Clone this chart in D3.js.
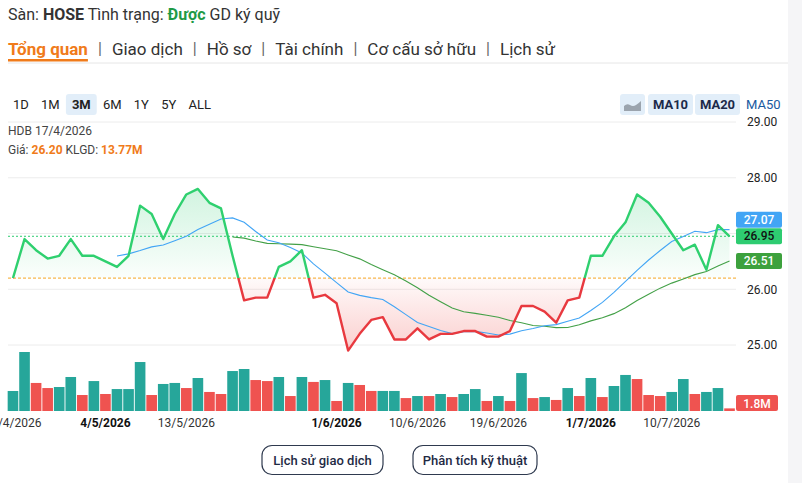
<!DOCTYPE html>
<html>
<head>
<meta charset="utf-8">
<script src="https://cdn.jsdelivr.net/npm/d3@7"></script>
<style>
  body { margin: 0; background: #fff; }
  svg { display: block; font-family: Roboto, "Noto Sans", Arial, sans-serif; }
</style>
</head>
<body>
<div id="chart"></div>
<script>
// trading days, 3M window
var dates = ['17/4/2026', '20/4/2026', '21/4/2026', '22/4/2026', '23/4/2026', '24/4/2026', '28/4/2026', '29/4/2026',
    '4/5/2026', '5/5/2026', '6/5/2026', '7/5/2026', '8/5/2026', '11/5/2026', '12/5/2026', '13/5/2026', '14/5/2026', '15/5/2026',
    '18/5/2026', '19/5/2026', '20/5/2026', '21/5/2026', '22/5/2026', '25/5/2026', '26/5/2026', '27/5/2026', '28/5/2026', '29/5/2026',
    '1/6/2026', '2/6/2026', '3/6/2026', '4/6/2026', '5/6/2026', '8/6/2026', '9/6/2026', '10/6/2026', '11/6/2026', '12/6/2026',
    '15/6/2026', '16/6/2026', '17/6/2026', '18/6/2026', '19/6/2026', '22/6/2026', '23/6/2026', '24/6/2026', '25/6/2026', '26/6/2026',
    '29/6/2026', '30/6/2026', '1/7/2026', '2/7/2026', '3/7/2026', '6/7/2026', '7/7/2026', '8/7/2026', '9/7/2026', '10/7/2026',
    '13/7/2026', '14/7/2026', '15/7/2026', '16/7/2026', '17/7/2026'];

var prices = [26.20, 26.90, 26.70, 26.55, 26.60, 26.90, 26.60, 26.60, 26.50, 26.40,
    26.60, 27.50, 27.35, 26.90, 27.35, 27.70, 27.80, 27.55, 27.45, 26.60,
    25.80, 25.85, 25.85, 26.40, 26.50, 26.70, 25.85, 25.90, 25.75, 24.90,
    25.20, 25.45, 25.50, 25.10, 25.10, 25.30, 25.10, 25.20, 25.20, 25.25,
    25.25, 25.15, 25.15, 25.25, 25.70, 25.70, 25.60, 25.40, 25.80, 25.85,
    26.60, 26.60, 26.95, 27.20, 27.70, 27.55, 27.30, 27.00, 26.70, 26.80,
    26.35, 27.15, 26.95];

// volume, millions
var volumes = [13.77, 40.6, 19.3, 15.8, 16.5, 23.4, 11.0, 20.6, 11.7, 15.1,
    15.1, 33.7, 11.0, 18.6, 19.3, 15.8, 22.7, 13.1, 11.7, 27.5,
    28.9, 21.3, 20.6, 23.4, 10.3, 23.4, 20.0, 21.3, 6.9, 19.3,
    17.9, 13.8, 13.8, 13.8, 8.9, 10.3, 10.3, 11.7, 9.6, 11.7,
    15.1, 6.9, 10.3, 6.9, 26.1, 8.9, 9.6, 7.6, 15.8, 10.3,
    22.7, 9.6, 17.2, 24.8, 22.0, 11.0, 10.3, 13.1, 22.0, 11.7,
    13.1, 15.8, 1.8];

var volDir = ('u u d d u u d u d u u u d u u d u d d u u d d u d u d u d u d d u u ' +
    'd u d u d u u d u d u d u d u d u d u u d d d u u d u u d').split(' ');

var tickDates = ['17/4/2026', '4/5/2026', '13/5/2026', '1/6/2026', '10/6/2026', '19/6/2026', '1/7/2026', '10/7/2026'];
var boldDates = ['4/5/2026', '1/6/2026', '1/7/2026'];
var priceTicks = [25, 26, 27, 28, 29];

var refPrice = prices[0];
var lastPrice = prices[prices.length - 1];

var ranges = ['1D', '1M', '3M', '6M', '1Y', '5Y', 'ALL'];
var tabs = ['Tổng quan', 'Giao dịch', 'Hồ sơ', 'Tài chính', 'Cơ cấu sở hữu', 'Lịch sử'];

var W = 802, H = 483;
var svg = d3.select('#chart').append('svg').attr('width', W).attr('height', H);

svg.append('rect').attr('x', 788).attr('y', 0).attr('width', 14).attr('height', H).attr('fill', '#f5f5f7');

// ---- header
var head = svg.append('text').attr('x', 8).attr('y', 20).attr('font-size', 16).attr('fill', '#333');
head.append('tspan').text('Sàn: ');
head.append('tspan').attr('font-weight', 700).text('HOSE');
head.append('tspan').text(' Tình trạng: ');
head.append('tspan').attr('font-weight', 700).attr('fill', '#1e9a46').text('Được');
head.append('tspan').text(' GD ký quỹ');

var tabX = 8;
tabs.forEach(function(t, i) {
    var el = svg.append('text').attr('x', tabX).attr('y', 55).attr('font-size', 17)
        .attr('fill', i === 0 ? '#f07b1a' : '#333').attr('font-weight', i === 0 ? 700 : 400).text(t);
    var w = el.node().getComputedTextLength();
    if (i === 0) {
        svg.append('rect').attr('x', tabX).attr('y', 59).attr('width', w).attr('height', 2.5).attr('fill', '#f07b1a');
    }
    tabX += w;
    if (i < tabs.length - 1) {
        svg.append('text').attr('x', tabX + 12).attr('y', 54).attr('font-size', 16).attr('fill', '#666')
            .attr('text-anchor', 'middle').text('|');
        tabX += 24;
    }
});
svg.append('line').attr('x1', 8).attr('x2', 788).attr('y1', 63).attr('y2', 63).attr('stroke', '#e6e6e6');

// ---- range buttons
var rx = 13;
ranges.forEach(function(r) {
    var el = svg.append('text').attr('x', rx).attr('y', 109).attr('font-size', 13).attr('fill', '#222')
        .attr('font-weight', r === '3M' ? 700 : 400).text(r);
    var w = el.node().getComputedTextLength();
    if (r === '3M') {
        svg.insert('rect', 'text').attr('x', rx - 6).attr('y', 94).attr('width', w + 12).attr('height', 21)
            .attr('rx', 3).attr('fill', '#e2eef9');
    }
    rx += w + 12.2;
});

// ---- MA toggles
svg.append('rect').attr('x', 620).attr('y', 94).attr('width', 25).attr('height', 21).attr('rx', 3).attr('fill', '#e2eef9');
svg.append('path').attr('d', 'M624,111 L624,106 Q627,103 630,105 Q633,107 636,105 Q639,103 641,101 L641,111 Z').attr('fill', '#9ba4ae');
[['MA10', 648, 45], ['MA20', 695, 45]].forEach(function(m) {
    svg.append('rect').attr('x', m[1]).attr('y', 94).attr('width', m[2]).attr('height', 21).attr('rx', 3).attr('fill', '#e2eef9');
    svg.append('text').attr('x', m[1] + m[2] / 2).attr('y', 109).attr('text-anchor', 'middle').attr('font-size', 13)
        .attr('font-weight', 700).attr('fill', '#1c2a4a').text(m[0]);
});
svg.append('text').attr('x', 746).attr('y', 109).attr('font-size', 13).attr('fill', '#1a5aa0').text('MA50');

// ---- scales
var xB = d3.scaleBand().domain(dates).range([7.2, 735.3]).paddingInner(0.08).paddingOuter(0.04);
var cx = function(d) { return xB(d) + xB.bandwidth() / 2; };
var yP = d3.scaleLinear().domain([25, 29]).range([345, 122]);
var yV = d3.scaleLinear().domain([0, 45]).range([411, 345.6]);

// grid + price axis
svg.append('g').selectAll('line').data(priceTicks).join('line')
    .attr('x1', 8).attr('x2', 736).attr('y1', function(d) { return yP(d); }).attr('y2', function(d) { return yP(d); })
    .attr('stroke', '#ececec');

var yAxis = svg.append('g').attr('transform', 'translate(744,0)')
    .call(d3.axisRight(yP).tickValues(priceTicks).tickFormat(d3.format('.2f')).tickSize(0).tickPadding(3));
yAxis.select('.domain').remove();
yAxis.selectAll('text').attr('font-size', 12).attr('fill', '#222').attr('font-family', 'Roboto, sans-serif');

// info
svg.append('text').attr('x', 8).attr('y', 135).attr('font-size', 12).attr('fill', '#444').text('HDB ' + dates[0]);
var info = svg.append('text').attr('x', 8).attr('y', 154).attr('font-size', 12).attr('fill', '#444');
info.append('tspan').text('Giá: ');
info.append('tspan').attr('font-weight', 700).attr('fill', '#f07b1a').text(refPrice.toFixed(2));
info.append('tspan').text(' KLGD: ');
info.append('tspan').attr('font-weight', 700).attr('fill', '#f07b1a').text(volumes[0].toFixed(2) + 'M');

// ---- volume bars
svg.append('g').selectAll('rect').data(dates).join('rect')
    .attr('x', function(d) { return xB(d); })
    .attr('width', xB.bandwidth())
    .attr('y', function(d, i) { return yV(volumes[i]); })
    .attr('height', function(d, i) { return yV(0) - yV(volumes[i]); })
    .attr('fill', function(d, i) { return volDir[i] === 'u' ? '#26a69a' : '#ef5350'; });

// ---- price area & line
var defs = svg.append('defs');
var yRef = yP(refPrice);
defs.append('clipPath').attr('id', 'above').append('rect').attr('x', 0).attr('y', 0).attr('width', W).attr('height', yRef);
defs.append('clipPath').attr('id', 'below').append('rect').attr('x', 0).attr('y', yRef).attr('width', W).attr('height', H - yRef);

var gUp = defs.append('linearGradient').attr('id', 'gUp').attr('gradientUnits', 'userSpaceOnUse')
    .attr('x1', 0).attr('x2', 0).attr('y1', yP(d3.max(prices))).attr('y2', yRef);
gUp.append('stop').attr('offset', 0).attr('stop-color', '#2ecc71').attr('stop-opacity', 0.22);
gUp.append('stop').attr('offset', 1).attr('stop-color', '#2ecc71').attr('stop-opacity', 0.02);
var gDn = defs.append('linearGradient').attr('id', 'gDn').attr('gradientUnits', 'userSpaceOnUse')
    .attr('x1', 0).attr('x2', 0).attr('y1', yRef).attr('y2', yP(d3.min(prices)));
gDn.append('stop').attr('offset', 0).attr('stop-color', '#ef5350').attr('stop-opacity', 0.03);
gDn.append('stop').attr('offset', 1).attr('stop-color', '#ef5350').attr('stop-opacity', 0.28);

var area = d3.area().x(function(d, i) { return cx(dates[i]); }).y0(yRef).y1(function(d) { return yP(d); });
var line = d3.line().x(function(d, i) { return cx(dates[i]); }).y(function(d) { return yP(d); });

svg.append('path').datum(prices).attr('d', area).attr('fill', 'url(#gUp)').attr('clip-path', 'url(#above)');
svg.append('path').datum(prices).attr('d', area).attr('fill', 'url(#gDn)').attr('clip-path', 'url(#below)');

// reference + current price lines
svg.append('line').attr('x1', 8).attr('x2', 736).attr('y1', yRef).attr('y2', yRef)
    .attr('stroke', '#f5a623').attr('stroke-dasharray', '3,2');
svg.append('line').attr('x1', 8).attr('x2', 736).attr('y1', yP(lastPrice)).attr('y2', yP(lastPrice))
    .attr('stroke', '#2ecc71').attr('stroke-dasharray', '2,2');

// moving averages
function movingAvg(n) {
    return prices.map(function(p, i) {
        return i < n - 1 ? null : d3.mean(prices.slice(i - n + 1, i + 1));
    });
}
var ma10 = movingAvg(10), ma20 = movingAvg(20);
var maLine = d3.line().defined(function(d) { return d !== null; })
    .x(function(d, i) { return cx(dates[i]); }).y(function(d) { return yP(d); });
svg.append('path').datum(ma20).attr('d', maLine).attr('fill', 'none').attr('stroke', '#43a047').attr('stroke-width', 1.1);
svg.append('path').datum(ma10).attr('d', maLine).attr('fill', 'none').attr('stroke', '#42a5f5').attr('stroke-width', 1.1);

svg.append('path').datum(prices).attr('d', line).attr('fill', 'none').attr('stroke', '#2fd06f')
    .attr('stroke-width', 2.4).attr('stroke-linejoin', 'round').attr('clip-path', 'url(#above)');
svg.append('path').datum(prices).attr('d', line).attr('fill', 'none').attr('stroke', '#e8393f')
    .attr('stroke-width', 2.4).attr('stroke-linejoin', 'round').attr('clip-path', 'url(#below)');

// ---- right value labels
var boxH = 16;
var labels = [
    { v: lastPrice, bg: '#2ecc71', fg: '#111' },
    { v: ma10[ma10.length - 1], bg: '#42a5f5', fg: '#fff' },
    { v: ma20[ma20.length - 1], bg: '#3da13d', fg: '#fff' }
];
var placed = [];
labels.forEach(function(l) {
    var top = yP(l.v) - boxH / 2;
    placed.forEach(function(p) {
        if (top < p + boxH && top + boxH > p) top = l.v > lastPrice ? p - boxH - 0.5 : p + boxH + 0.5;
    });
    placed.push(top);
    svg.append('rect').attr('x', 736).attr('y', top).attr('width', 46).attr('height', boxH).attr('rx', 2).attr('fill', l.bg);
    svg.append('text').attr('x', 759).attr('y', top + 12).attr('text-anchor', 'middle').attr('font-size', 12)
        .attr('font-weight', 500).attr('fill', l.fg).text(l.v.toFixed(2));
});

// axis labels hidden behind a value box
yAxis.selectAll('.tick').filter(function(d) {
    var y = yP(d);
    return placed.some(function(p) { return y > p - 6 && y < p + boxH + 6; });
}).remove();

var lastVol = volumes[volumes.length - 1];
svg.append('rect').attr('x', 736).attr('y', 395).attr('width', 42).attr('height', 16).attr('rx', 2).attr('fill', '#ef5350');
svg.append('text').attr('x', 757).attr('y', 407.5).attr('text-anchor', 'middle').attr('font-size', 12)
    .attr('font-weight', 500).attr('fill', '#fff').text(lastVol.toFixed(1) + 'M');

// ---- x axis
var xAxis = svg.append('g').attr('transform', 'translate(0,414)')
    .call(d3.axisBottom(xB).tickValues(tickDates).tickSize(0).tickPadding(4));
xAxis.select('.domain').remove();
xAxis.selectAll('text').attr('font-size', 12).attr('fill', function(d) { return boldDates.indexOf(d) >= 0 ? '#111' : '#333'; })
    .attr('font-weight', function(d) { return boldDates.indexOf(d) >= 0 ? 700 : 400; })
    .attr('font-family', 'Roboto, sans-serif');

// ---- buttons
[['Lịch sử giao dịch', 262, 121], ['Phân tích kỹ thuật', 413, 124]].forEach(function(b) {
    svg.append('rect').attr('x', b[1]).attr('y', 445.5).attr('width', b[2]).attr('height', 29).attr('rx', 10)
        .attr('fill', '#fff').attr('stroke', '#2f3a4f').attr('stroke-width', 1.2);
    svg.append('text').attr('x', b[1] + b[2] / 2).attr('y', 465).attr('text-anchor', 'middle').attr('font-size', 13)
        .attr('font-weight', 500).attr('fill', '#1e2a44').text(b[0]);
});
</script>
</body>
</html>
